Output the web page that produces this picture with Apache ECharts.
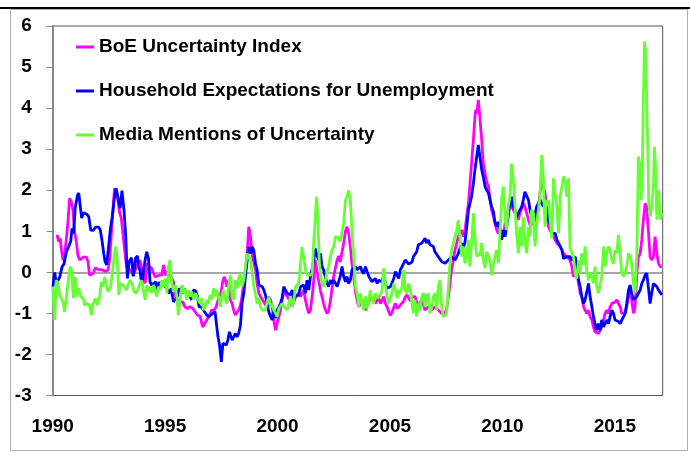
<!DOCTYPE html>
<html><head><meta charset="utf-8">
<script src="https://cdn.jsdelivr.net/npm/echarts@6/dist/echarts.min.js"></script>
<style>html,body{margin:0;padding:0;background:#fff}#c{width:690px;height:461px}</style>
</head><body><div id="c"></div>
<script>
const seriesNames = ['BoE Uncertainty Index','Household Expectations for Unemployment','Media Mentions of Uncertainty'];
const xTickLabels = ['1990','1995','2000','2005','2010','2015'];
const yTickLabels = ['-3','-2','-1','0','1','2','3','4','5','6'];

const boe = [[1990.19,0.91],[1990.27,0.75],[1990.33,0.83],[1990.39,0.54],[1990.46,0.3],[1990.53,0.42],[1990.61,0.83],[1990.68,1.24],[1990.75,1.8],[1990.83,1.72],[1990.9,1.52],[1990.97,0.99],[1991.05,0.75],[1991.12,0.42],[1991.2,0.3],[1991.27,0.3],[1991.35,0.37],[1991.42,0.34],[1991.5,0.37],[1991.57,0.26],[1991.64,-0.07],[1991.72,-0.07],[1991.8,-0.03],[1991.9,0.11],[1992.0,0.07],[1992.2,0.06],[1992.27,0.04],[1992.36,0.02],[1992.46,0.06],[1992.53,0.3],[1992.6,0.87],[1992.67,1.44],[1992.75,2.05],[1992.82,2.09],[1992.9,1.76],[1992.98,1.44],[1993.05,1.32],[1993.13,0.91],[1993.2,0.54],[1993.28,0.14],[1993.35,0.06],[1993.47,0.06],[1993.57,-0.07],[1993.68,0.06],[1993.77,0.18],[1993.88,0.3],[1994.0,0.02],[1994.11,-0.27],[1994.21,0.22],[1994.3,0.14],[1994.4,0.1],[1994.48,0.06],[1994.55,-0.11],[1994.63,-0.15],[1994.74,-0.07],[1994.85,-0.07],[1994.93,0.18],[1995.01,-0.07],[1995.1,0.02],[1995.18,0.06],[1995.27,-0.11],[1995.37,-0.23],[1995.45,-0.55],[1995.54,-0.67],[1995.66,-0.72],[1995.78,-0.72],[1995.88,-0.84],[1995.99,-0.88],[1996.11,-0.84],[1996.23,-0.88],[1996.33,-0.96],[1996.44,-1.04],[1996.56,-1.08],[1996.67,-1.33],[1996.73,-1.28],[1996.85,-1.16],[1996.97,-1.04],[1997.07,-0.92],[1997.18,-0.92],[1997.27,-0.84],[1997.38,-0.63],[1997.48,-0.51],[1997.57,-0.2],[1997.64,-0.11],[1997.75,-0.35],[1997.83,-0.19],[1997.9,-0.67],[1997.98,-0.76],[1998.05,-0.92],[1998.12,-1.04],[1998.2,-1.08],[1998.27,-0.92],[1998.35,-0.8],[1998.42,-0.59],[1998.5,-0.27],[1998.57,0.06],[1998.65,0.46],[1998.72,1.11],[1998.8,0.87],[1998.87,0.42],[1998.94,0.26],[1999.02,0.06],[1999.09,-0.27],[1999.17,-0.51],[1999.24,-0.59],[1999.32,-0.63],[1999.39,-0.72],[1999.46,-0.8],[1999.54,-0.67],[1999.61,-0.59],[1999.69,-0.67],[1999.76,-0.84],[1999.83,-1.16],[1999.91,-1.41],[1999.98,-1.24],[2000.06,-1.08],[2000.13,-0.92],[2000.2,-0.67],[2000.28,-0.47],[2000.35,-0.43],[2000.43,-0.59],[2000.5,-0.63],[2000.58,-0.72],[2000.65,-0.84],[2000.72,-0.67],[2000.8,-0.59],[2000.87,-0.63],[2000.94,-0.51],[2001.02,-0.59],[2001.09,-0.55],[2001.16,-0.43],[2001.24,-0.67],[2001.31,-0.84],[2001.39,-1.0],[2001.46,-0.92],[2001.54,-0.59],[2001.61,-0.2],[2001.68,0.3],[2001.76,0.0],[2001.83,-0.2],[2001.91,-0.45],[2001.98,-0.6],[2002.05,-0.76],[2002.12,-0.9],[2002.2,-1.0],[2002.27,-0.95],[2002.35,-0.7],[2002.42,-0.4],[2002.5,-0.1],[2002.57,0.1],[2002.65,0.3],[2002.72,0.4],[2002.79,0.25],[2002.87,0.5],[2002.94,0.7],[2003.02,1.0],[2003.09,1.11],[2003.16,0.95],[2003.24,0.6],[2003.31,0.2],[2003.39,-0.1],[2003.46,-0.45],[2003.54,-0.7],[2003.61,-0.84],[2003.69,-0.76],[2003.76,-0.68],[2003.83,-0.84],[2003.91,-0.92],[2003.98,-0.9],[2004.06,-0.72],[2004.13,-0.63],[2004.2,-0.59],[2004.28,-0.63],[2004.35,-0.76],[2004.43,-0.68],[2004.5,-0.63],[2004.58,-0.76],[2004.65,-0.68],[2004.72,-0.59],[2004.8,-0.76],[2004.87,-0.84],[2004.94,-0.95],[2005.02,-1.05],[2005.09,-0.98],[2005.17,-0.85],[2005.24,-0.76],[2005.32,-0.88],[2005.39,-0.84],[2005.46,-0.8],[2005.54,-0.84],[2005.61,-0.7],[2005.68,-0.6],[2005.76,-0.55],[2005.83,-0.59],[2005.91,-0.7],[2005.98,-0.6],[2006.11,-0.59],[2006.26,-0.84],[2006.41,-0.65],[2006.56,-0.92],[2006.71,-0.84],[2006.86,-0.92],[2007.0,-0.84],[2007.15,-0.92],[2007.3,-1.0],[2007.45,-1.0],[2007.52,-0.88],[2007.6,-0.59],[2007.67,-0.27],[2007.74,0.06],[2007.82,0.3],[2007.89,0.54],[2007.97,0.71],[2008.04,0.87],[2008.11,0.95],[2008.19,1.03],[2008.26,0.87],[2008.34,1.03],[2008.41,1.36],[2008.49,1.68],[2008.56,2.17],[2008.63,2.66],[2008.71,3.23],[2008.78,3.8],[2008.82,3.96],[2008.87,3.88],[2008.93,4.2],[2008.97,3.96],[2009.02,3.63],[2009.08,3.23],[2009.15,2.66],[2009.23,2.41],[2009.3,2.2],[2009.38,2.1],[2009.45,1.8],[2009.52,1.52],[2009.6,1.36],[2009.67,1.19],[2009.75,1.03],[2009.82,0.95],[2009.9,1.03],[2009.97,0.95],[2010.04,0.87],[2010.12,1.19],[2010.19,1.36],[2010.26,1.52],[2010.34,1.76],[2010.41,1.6],[2010.49,1.52],[2010.56,1.44],[2010.63,1.36],[2010.71,1.28],[2010.78,1.44],[2010.86,1.56],[2010.93,1.68],[2011.0,1.6],[2011.08,1.44],[2011.16,1.28],[2011.23,1.15],[2011.3,1.11],[2011.38,1.19],[2011.45,1.28],[2011.52,1.36],[2011.6,1.52],[2011.67,1.93],[2011.75,2.17],[2011.82,2.09],[2011.9,1.93],[2011.97,1.5],[2012.05,1.11],[2012.12,1.03],[2012.27,0.87],[2012.42,0.71],[2012.57,0.63],[2012.72,0.46],[2012.87,0.38],[2013.01,0.3],[2013.09,0.14],[2013.16,-0.1],[2013.24,-0.1],[2013.31,-0.02],[2013.39,-0.27],[2013.46,-0.51],[2013.53,-0.59],[2013.61,-0.84],[2013.68,-0.92],[2013.75,-1.0],[2013.83,-0.92],[2013.9,-1.08],[2013.98,-1.16],[2014.05,-1.33],[2014.12,-1.45],[2014.2,-1.49],[2014.27,-1.49],[2014.35,-1.45],[2014.42,-1.33],[2014.5,-1.16],[2014.57,-1.0],[2014.64,-0.92],[2014.72,-1.0],[2014.79,-0.84],[2014.87,-0.76],[2014.94,-0.76],[2015.01,-0.72],[2015.09,-0.67],[2015.16,-0.76],[2015.24,-0.84],[2015.31,-1.0],[2015.39,-1.04],[2015.46,-1.0],[2015.53,-0.84],[2015.61,-0.59],[2015.68,-0.35],[2015.75,-0.67],[2015.83,-1.0],[2015.9,-0.84],[2015.98,-0.02],[2016.05,0.38],[2016.13,0.46],[2016.2,0.79],[2016.27,1.28],[2016.35,1.68],[2016.42,1.6],[2016.49,1.03],[2016.57,0.38],[2016.64,0.3],[2016.72,0.38],[2016.79,0.87],[2016.87,0.46],[2016.94,0.22],[2017.02,0.14],[2017.09,0.14]];

const household = [[1990.01,-0.35],[1990.09,0.0],[1990.16,-0.27],[1990.31,-0.12],[1990.42,0.14],[1990.5,0.2],[1990.61,0.5],[1990.71,0.63],[1990.8,0.75],[1990.86,1.07],[1990.93,0.95],[1991.0,1.56],[1991.1,1.88],[1991.16,1.93],[1991.22,1.64],[1991.29,1.32],[1991.37,1.45],[1991.5,1.42],[1991.6,1.36],[1991.69,1.03],[1991.8,1.02],[1991.9,1.1],[1992.05,1.1],[1992.12,1.02],[1992.2,0.75],[1992.27,0.46],[1992.33,0.26],[1992.4,0.18],[1992.47,0.54],[1992.56,1.03],[1992.65,1.36],[1992.74,1.8],[1992.82,2.05],[1992.9,2.02],[1993.0,1.56],[1993.08,1.99],[1993.17,1.52],[1993.25,0.87],[1993.32,-0.15],[1993.4,0.26],[1993.5,0.36],[1993.59,-0.1],[1993.68,0.34],[1993.77,0.4],[1993.81,0.14],[1993.88,0.06],[1993.96,-0.31],[1994.03,-0.02],[1994.11,0.3],[1994.18,0.5],[1994.26,0.34],[1994.33,-0.23],[1994.4,-0.31],[1994.48,-0.27],[1994.58,-0.23],[1994.66,-0.43],[1994.74,-0.23],[1994.8,-0.35],[1994.88,-0.39],[1994.93,-0.27],[1995.0,-0.31],[1995.1,-0.43],[1995.18,-0.51],[1995.27,-0.39],[1995.37,-0.72],[1995.45,-0.72],[1995.54,-0.59],[1995.63,-0.39],[1995.7,-0.35],[1995.78,-0.51],[1995.86,-0.39],[1995.93,-0.51],[1996.0,-0.47],[1996.11,-0.59],[1996.18,-0.67],[1996.26,-0.43],[1996.36,-0.45],[1996.44,-0.59],[1996.51,-0.84],[1996.6,-0.84],[1996.67,-0.8],[1996.75,-0.96],[1996.85,-1.04],[1996.94,-1.08],[1997.03,-1.04],[1997.12,-1.0],[1997.22,-0.96],[1997.3,-1.0],[1997.35,-1.57],[1997.42,-1.77],[1997.5,-2.18],[1997.57,-1.73],[1997.64,-1.69],[1997.72,-1.77],[1997.79,-1.65],[1997.86,-1.45],[1997.98,-1.65],[1998.05,-1.61],[1998.12,-1.49],[1998.2,-1.57],[1998.27,-1.49],[1998.35,-1.29],[1998.42,-0.76],[1998.5,-0.51],[1998.57,-0.11],[1998.65,0.3],[1998.72,0.62],[1998.8,0.46],[1998.87,0.62],[1998.94,0.54],[1999.02,0.22],[1999.09,0.06],[1999.17,-0.31],[1999.24,-0.27],[1999.32,-0.35],[1999.39,-0.43],[1999.46,-0.55],[1999.54,-0.76],[1999.61,-0.96],[1999.69,-1.08],[1999.76,-1.16],[1999.83,-0.92],[1999.91,-1.12],[1999.98,-0.92],[2000.06,-0.84],[2000.13,-0.76],[2000.2,-0.63],[2000.28,-0.35],[2000.35,-0.43],[2000.43,-0.51],[2000.5,-0.47],[2000.58,-0.55],[2000.65,-0.43],[2000.72,-0.72],[2000.8,-0.59],[2000.87,-0.63],[2000.94,-0.55],[2001.02,-0.35],[2001.09,-0.39],[2001.16,-0.31],[2001.24,-0.51],[2001.31,-0.19],[2001.39,-0.43],[2001.46,-0.11],[2001.54,0.1],[2001.61,0.3],[2001.68,0.58],[2001.76,0.4],[2001.83,0.3],[2001.91,0.46],[2001.98,0.14],[2002.05,0.06],[2002.12,-0.1],[2002.2,-0.27],[2002.27,-0.35],[2002.35,-0.19],[2002.42,-0.27],[2002.5,-0.19],[2002.57,-0.23],[2002.65,-0.35],[2002.72,-0.31],[2002.79,-0.1],[2002.87,0.14],[2002.94,-0.1],[2003.02,-0.23],[2003.09,-0.1],[2003.16,-0.27],[2003.24,-0.19],[2003.31,0.06],[2003.39,0.02],[2003.46,0.14],[2003.54,0.06],[2003.61,0.06],[2003.69,0.14],[2003.76,0.02],[2003.83,-0.03],[2003.91,0.14],[2003.98,0.02],[2004.06,-0.1],[2004.13,-0.07],[2004.2,-0.23],[2004.28,-0.19],[2004.35,-0.15],[2004.43,-0.27],[2004.5,-0.19],[2004.65,-0.23],[2004.72,-0.07],[2004.8,-0.27],[2004.87,-0.39],[2004.94,-0.43],[2005.02,-0.35],[2005.09,-0.35],[2005.17,-0.15],[2005.24,0.02],[2005.32,-0.07],[2005.39,-0.15],[2005.46,0.06],[2005.54,0.14],[2005.61,0.22],[2005.68,0.3],[2005.76,0.25],[2005.83,0.2],[2005.91,0.18],[2005.98,0.25],[2006.04,0.38],[2006.11,0.42],[2006.19,0.5],[2006.26,0.67],[2006.34,0.63],[2006.41,0.71],[2006.49,0.71],[2006.56,0.83],[2006.63,0.71],[2006.71,0.79],[2006.78,0.67],[2006.86,0.63],[2006.93,0.63],[2007.0,0.5],[2007.08,0.46],[2007.15,0.38],[2007.23,0.34],[2007.3,0.26],[2007.37,0.22],[2007.45,0.22],[2007.52,0.22],[2007.6,0.3],[2007.67,0.26],[2007.74,0.38],[2007.82,0.34],[2007.89,0.3],[2007.97,0.38],[2008.04,0.46],[2008.11,0.5],[2008.19,0.71],[2008.26,0.58],[2008.34,0.75],[2008.41,1.07],[2008.49,1.52],[2008.56,1.68],[2008.63,1.84],[2008.71,2.17],[2008.78,2.5],[2008.86,2.82],[2008.93,3.1],[2009.0,2.82],[2009.08,2.5],[2009.15,2.33],[2009.23,2.09],[2009.3,2.0],[2009.38,1.93],[2009.45,1.76],[2009.52,1.6],[2009.6,1.48],[2009.67,1.23],[2009.75,1.11],[2009.82,1.23],[2009.9,1.03],[2009.97,0.79],[2010.04,1.03],[2010.12,0.87],[2010.19,1.11],[2010.26,1.36],[2010.34,1.68],[2010.41,1.84],[2010.49,1.6],[2010.56,1.52],[2010.63,1.36],[2010.71,1.44],[2010.78,1.44],[2010.86,1.6],[2010.93,1.76],[2011.0,1.96],[2011.08,1.93],[2011.16,1.76],[2011.23,1.52],[2011.3,1.36],[2011.38,1.28],[2011.45,1.4],[2011.52,1.6],[2011.6,1.68],[2011.67,1.78],[2011.75,1.68],[2011.82,1.6],[2011.9,1.7],[2011.97,1.55],[2012.05,1.28],[2012.12,1.19],[2012.2,0.95],[2012.27,0.99],[2012.35,0.95],[2012.42,0.79],[2012.5,0.71],[2012.57,0.63],[2012.65,0.54],[2012.72,0.34],[2012.79,0.3],[2012.87,0.38],[2012.94,0.34],[2013.01,0.38],[2013.09,0.3],[2013.16,0.3],[2013.24,0.38],[2013.31,0.14],[2013.39,-0.19],[2013.46,-0.35],[2013.53,-0.59],[2013.61,-0.76],[2013.68,-0.67],[2013.75,-0.67],[2013.83,-0.27],[2013.9,-0.59],[2013.98,-0.84],[2014.05,-1.08],[2014.12,-1.25],[2014.2,-1.41],[2014.27,-1.25],[2014.35,-1.41],[2014.42,-1.16],[2014.5,-1.33],[2014.57,-1.25],[2014.64,-1.16],[2014.72,-1.25],[2014.79,-1.08],[2014.87,-0.92],[2014.94,-1.0],[2015.01,-1.16],[2015.09,-1.16],[2015.16,-1.2],[2015.24,-1.25],[2015.31,-1.16],[2015.39,-1.08],[2015.46,-1.0],[2015.53,-0.76],[2015.61,-0.43],[2015.68,-0.31],[2015.75,-0.51],[2015.83,-0.67],[2015.9,-0.67],[2015.98,-0.59],[2016.05,-0.51],[2016.13,-0.43],[2016.2,-0.27],[2016.27,-0.19],[2016.35,-0.07],[2016.42,-0.02],[2016.49,-0.35],[2016.57,-0.76],[2016.64,-0.51],[2016.72,-0.27],[2016.79,-0.27],[2016.87,-0.35],[2016.94,-0.43],[2017.02,-0.47],[2017.09,-0.55]];

const media = [[1990.0,-0.35],[1990.09,-1.16],[1990.16,-0.19],[1990.24,-0.27],[1990.31,-0.55],[1990.39,-0.51],[1990.46,-0.72],[1990.53,-0.96],[1990.61,-0.59],[1990.68,-0.27],[1990.77,0.14],[1990.84,0.06],[1990.92,-0.63],[1991.0,-0.11],[1991.08,-0.59],[1991.16,-0.39],[1991.25,-0.59],[1991.35,-0.63],[1991.42,-0.8],[1991.54,-0.76],[1991.64,-0.8],[1991.72,-1.04],[1991.8,-0.76],[1991.9,-0.63],[1991.98,-0.8],[1992.09,-0.59],[1992.16,-0.23],[1992.24,-0.35],[1992.31,-0.11],[1992.39,-0.31],[1992.46,-0.47],[1992.58,-0.35],[1992.68,0.14],[1992.79,0.62],[1992.86,0.42],[1992.94,-0.55],[1993.01,-0.27],[1993.13,-0.31],[1993.2,-0.27],[1993.28,-0.43],[1993.35,-0.31],[1993.43,-0.19],[1993.53,-0.27],[1993.62,-0.47],[1993.71,-0.51],[1993.81,-0.39],[1993.88,-0.27],[1993.96,-0.19],[1994.03,-0.43],[1994.11,-0.67],[1994.18,-0.31],[1994.26,-0.47],[1994.33,-0.35],[1994.4,-0.51],[1994.48,-0.31],[1994.55,-0.43],[1994.63,-0.59],[1994.7,-0.35],[1994.78,-0.43],[1994.85,-0.19],[1994.93,-0.35],[1995.0,-0.15],[1995.08,-0.51],[1995.15,0.14],[1995.22,0.3],[1995.3,-0.27],[1995.37,-0.47],[1995.45,-0.31],[1995.52,-0.59],[1995.59,-1.04],[1995.67,-0.67],[1995.74,-0.31],[1995.82,-0.51],[1995.89,-0.39],[1995.96,-0.67],[1996.04,-0.43],[1996.11,-0.59],[1996.19,-0.47],[1996.26,-0.67],[1996.36,-0.51],[1996.44,-0.63],[1996.56,-0.76],[1996.63,-0.63],[1996.7,-0.92],[1996.78,-0.84],[1996.85,-0.67],[1996.93,-0.76],[1997.0,-0.55],[1997.07,-0.67],[1997.15,-0.39],[1997.22,-0.59],[1997.3,-0.43],[1997.38,-0.59],[1997.45,-0.84],[1997.52,-0.59],[1997.6,-0.43],[1997.68,-0.67],[1997.75,-0.76],[1997.83,-0.31],[1997.9,-0.07],[1997.98,-0.59],[1998.05,-0.67],[1998.12,-0.19],[1998.2,-0.39],[1998.27,-0.15],[1998.35,-0.02],[1998.42,-0.35],[1998.5,-0.19],[1998.57,-0.19],[1998.65,0.46],[1998.72,0.46],[1998.8,0.3],[1998.87,-0.02],[1998.94,-0.31],[1999.02,-0.55],[1999.09,-0.76],[1999.17,-0.63],[1999.24,-0.84],[1999.32,-0.92],[1999.39,-0.88],[1999.46,-0.92],[1999.54,-0.72],[1999.61,-0.59],[1999.69,-0.84],[1999.76,-0.76],[1999.83,-0.92],[1999.91,-1.0],[1999.98,-1.08],[2000.06,-0.88],[2000.13,-0.92],[2000.2,-0.76],[2000.28,-0.84],[2000.35,-0.8],[2000.43,-0.92],[2000.5,-0.76],[2000.58,-0.59],[2000.65,-0.84],[2000.72,-0.72],[2000.8,-0.35],[2000.87,-0.31],[2000.94,-0.27],[2001.02,-0.27],[2001.09,0.62],[2001.16,0.38],[2001.24,0.06],[2001.31,-0.07],[2001.39,-0.11],[2001.46,-0.07],[2001.54,-0.02],[2001.6,0.63],[2001.68,1.36],[2001.74,1.84],[2001.8,1.19],[2001.86,0.22],[2001.94,-0.19],[2002.05,-0.35],[2002.12,-0.23],[2002.2,0.02],[2002.27,0.14],[2002.35,0.38],[2002.42,0.54],[2002.5,0.63],[2002.57,0.87],[2002.65,0.91],[2002.72,0.83],[2002.79,0.75],[2002.87,0.79],[2002.94,1.19],[2003.02,1.76],[2003.09,1.84],[2003.16,2.0],[2003.24,1.76],[2003.31,1.03],[2003.39,0.38],[2003.46,-0.35],[2003.54,-0.51],[2003.61,-0.84],[2003.69,-0.51],[2003.76,-0.76],[2003.83,-0.92],[2003.91,-0.59],[2003.98,-0.88],[2004.06,-0.67],[2004.13,-0.43],[2004.2,-0.67],[2004.28,-0.76],[2004.35,-0.51],[2004.43,-0.63],[2004.5,-0.67],[2004.58,-0.55],[2004.65,-0.43],[2004.72,0.1],[2004.8,-0.27],[2004.87,-0.59],[2004.94,-0.76],[2005.02,-0.63],[2005.09,-0.51],[2005.17,-0.27],[2005.24,-0.43],[2005.32,-0.63],[2005.39,-0.43],[2005.46,-0.51],[2005.54,-0.35],[2005.61,0.06],[2005.68,-0.43],[2005.76,-0.51],[2005.83,-0.27],[2005.91,-0.43],[2005.98,-0.76],[2006.04,-1.0],[2006.11,-0.68],[2006.19,-1.08],[2006.26,-0.76],[2006.34,-0.92],[2006.41,-0.59],[2006.49,-0.51],[2006.56,-0.84],[2006.63,-0.59],[2006.71,-0.51],[2006.78,-1.0],[2006.86,-0.84],[2006.93,-0.59],[2007.0,-0.51],[2007.08,-0.92],[2007.15,-0.35],[2007.23,-0.19],[2007.3,-0.84],[2007.37,-1.08],[2007.45,-1.08],[2007.52,-1.0],[2007.6,-0.35],[2007.67,0.22],[2007.74,0.54],[2007.82,0.71],[2007.89,0.87],[2007.97,1.03],[2008.04,1.27],[2008.11,0.87],[2008.19,0.38],[2008.26,0.63],[2008.34,0.22],[2008.41,0.38],[2008.49,0.79],[2008.56,0.14],[2008.63,0.71],[2008.71,1.44],[2008.78,0.87],[2008.86,0.38],[2008.93,0.46],[2009.0,0.4],[2009.08,0.71],[2009.15,0.3],[2009.23,0.1],[2009.3,0.5],[2009.38,0.46],[2009.45,0.3],[2009.52,-0.07],[2009.6,0.2],[2009.67,0.38],[2009.75,0.54],[2009.82,0.22],[2009.9,1.0],[2009.97,1.8],[2010.04,2.09],[2010.12,1.28],[2010.19,1.03],[2010.26,1.6],[2010.34,1.84],[2010.41,2.65],[2010.49,2.25],[2010.56,1.6],[2010.63,0.95],[2010.71,0.46],[2010.78,1.11],[2010.86,0.63],[2010.93,1.35],[2011.0,0.79],[2011.08,0.46],[2011.16,1.11],[2011.23,0.87],[2011.3,1.52],[2011.38,1.44],[2011.45,0.63],[2011.52,1.11],[2011.6,1.52],[2011.67,1.84],[2011.75,2.86],[2011.82,2.33],[2011.86,1.6],[2011.9,1.11],[2011.95,1.76],[2012.0,1.68],[2012.06,1.76],[2012.12,1.28],[2012.2,0.83],[2012.27,2.29],[2012.35,1.93],[2012.42,1.6],[2012.5,0.95],[2012.57,1.84],[2012.65,1.88],[2012.72,2.33],[2012.79,2.25],[2012.87,1.84],[2012.94,2.29],[2013.01,0.58],[2013.09,0.54],[2013.16,0.38],[2013.24,-0.02],[2013.31,-0.15],[2013.39,0.3],[2013.46,-0.02],[2013.53,0.46],[2013.61,0.18],[2013.68,0.63],[2013.75,0.06],[2013.83,-0.19],[2013.9,-0.02],[2013.98,-0.1],[2014.05,-0.27],[2014.12,0.14],[2014.2,-0.35],[2014.27,-0.51],[2014.35,-0.55],[2014.42,-0.1],[2014.5,0.63],[2014.57,0.14],[2014.64,0.46],[2014.72,0.63],[2014.79,0.54],[2014.87,0.3],[2014.94,0.22],[2015.01,0.54],[2015.09,0.46],[2015.16,0.91],[2015.24,0.46],[2015.31,-0.02],[2015.39,-0.1],[2015.46,-0.02],[2015.53,0.14],[2015.61,0.46],[2015.68,0.38],[2015.75,0.22],[2015.83,-0.27],[2015.9,-0.51],[2015.98,0.46],[2016.05,2.82],[2016.13,2.58],[2016.17,1.76],[2016.22,2.41],[2016.27,4.2],[2016.32,5.62],[2016.38,5.34],[2016.42,4.12],[2016.47,2.9],[2016.51,1.68],[2016.57,1.36],[2016.64,1.6],[2016.72,2.17],[2016.76,3.06],[2016.82,2.5],[2016.87,1.28],[2016.91,1.93],[2016.95,2.0],[2017.02,1.28],[2017.09,1.44]];

const colors = ['#FF00FF','#0000FF','#66FF33'];
const seriesData = [boe, household, media];

const chart = echarts.init(document.getElementById('c'), null, {renderer:'canvas'});
const labelFont = {fontFamily:'Liberation Sans', fontWeight:'bold', fontSize:19, color:'#000'};

chart.setOption({
  animation:false,
  backgroundColor:'#fff',
  graphic:[
    {type:'rect', shape:{x:10.5,y:9.5,width:677,height:441}, style:{fill:'none', stroke:'#b0b0b0', lineWidth:1}, z:-1},
    {type:'line', shape:{x1:0,y1:8,x2:690,y2:8}, style:{stroke:'#000', lineWidth:2}}
  ],
  grid:{left:52.7, right:27.3, top:26, bottom:65.5, show:true, borderColor:'#555', borderWidth:1, backgroundColor:'transparent'},
  legend:{
    orient:'vertical', left:71, top:32, itemWidth:18, itemHeight:3, itemGap:24,
    icon:'rect',
    textStyle:Object.assign({}, labelFont, {lineHeight:20, padding:[0,0,0,0]}),
    data:seriesNames
  },
  xAxis:{
    type:'value', min:1990, max:2017.13, interval:5,
    axisLine:{show:false}, axisTick:{show:false}, splitLine:{show:false},
    axisLabel:Object.assign({}, labelFont, {margin:22, showMaxLabel:false,
      formatter:function(v){ const i = Math.round((v-1990)/5); return xTickLabels[i] || ''; }})
  },
  yAxis:{
    type:'value', min:-3, max:6, interval:1,
    axisLine:{show:true, lineStyle:{color:'#888', width:2}},
    axisTick:{show:true, inside:false, length:6, lineStyle:{color:'#888', width:1}},
    splitLine:{show:false},
    axisLabel:Object.assign({}, labelFont, {margin:21, formatter:function(v){ return yTickLabels[Math.round(v+3)]; }})
  },
  series: seriesNames.map(function(name, i){
    const s = {
      name:name, type:'line', data:seriesData[i], showSymbol:false, symbol:'none',
      lineStyle:{color:colors[i], width:2.8}, itemStyle:{color:colors[i]}, z:3+i
    };
    if(i===0){
      s.markLine = {silent:true, symbol:'none', label:{show:false}, lineStyle:{color:'#888', width:1.5, type:'solid'}, data:[{yAxis:0}], z:1};
    }
    return s;
  })
});
</script></body></html>
